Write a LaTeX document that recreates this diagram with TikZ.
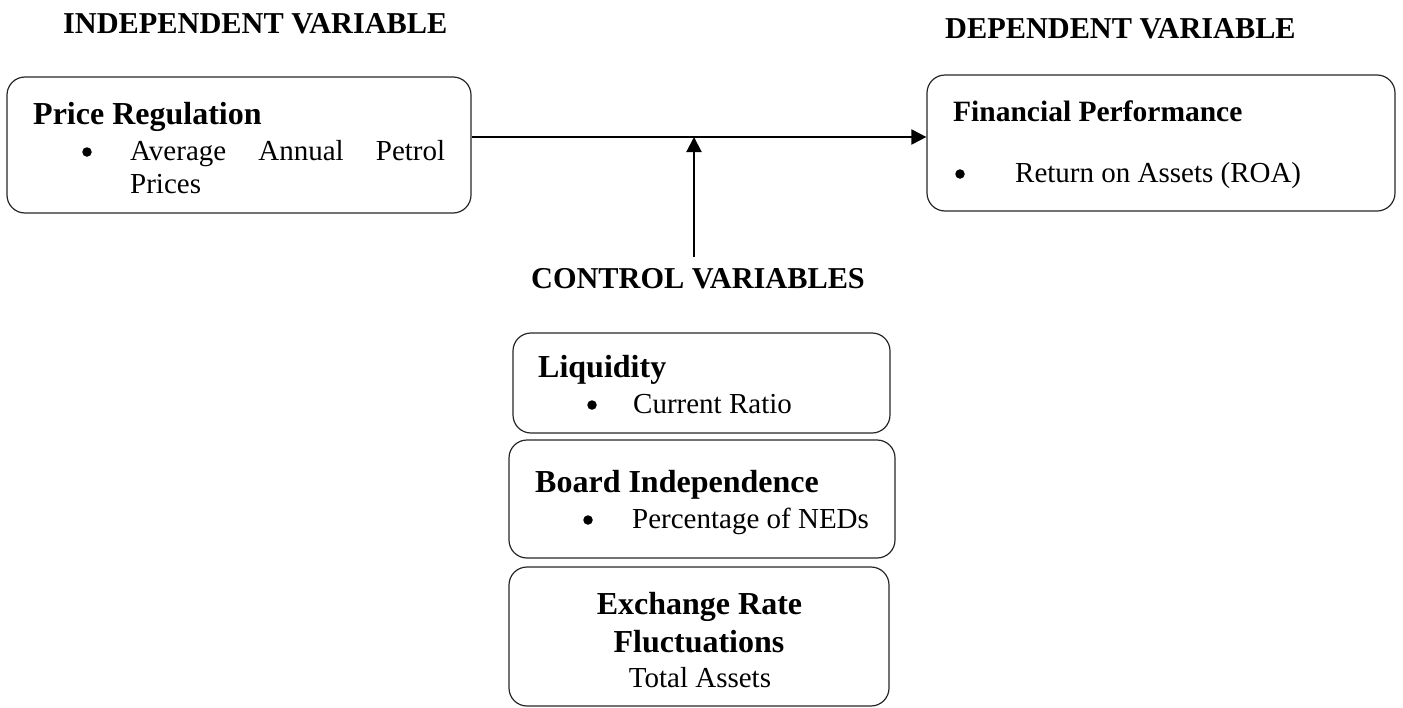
\documentclass[tikz,border=0pt]{standalone}
\usepackage{fontspec}
\setmainfont{Liberation Serif}
\usetikzlibrary{arrows.meta}
\begin{document}
\begin{tikzpicture}[x=1pt,y=-1pt,
  box/.style={draw=black!85, line width=1.2pt, rounded corners=18pt, inner sep=0pt},
  hd/.style={font=\bfseries\fontsize{30.3}{36}\selectfont, inner sep=0pt},
  ttl/.style={font=\bfseries\fontsize{32}{38}\selectfont, inner sep=0pt, anchor=base west},
  ttlc/.style={font=\bfseries\fontsize{32}{38}\selectfont, inner sep=0pt, anchor=base},
  txt/.style={font=\fontsize{29}{34}\selectfont, inner sep=0pt, anchor=base west},
  txtc/.style={font=\fontsize{29}{34}\selectfont, inner sep=0pt, anchor=base},
  dot/.style={circle, fill=black, inner sep=0pt, minimum size=9.5pt},
  arr/.style={line width=2pt, -{Triangle[length=15pt, width=15pt]}}
]
\useasboundingbox (0,0) rectangle (1403,707);

% boxes
\node[box, minimum width=464pt, minimum height=136pt] (pr) at (239,145) {};
\node[box, minimum width=468pt, minimum height=136pt] (fp) at (1161,143) {};
\node[box, minimum width=377pt, minimum height=100pt] (liq) at (701.5,383) {};
\node[box, minimum width=386pt, minimum height=118pt] (bi) at (702,499) {};
\node[box, minimum width=380pt, minimum height=139pt] (ex) at (699,636.5) {};

% headings
\node[hd, anchor=base west] (ivh) at (63,33) {INDEPENDENT VARIABLE};
\node[hd, anchor=base west] (dvh) at (945,38) {DEPENDENT VARIABLE};
\node[hd, anchor=base] (cv) at (698,288) {CONTROL VARIABLES};

% price regulation
\node[ttl] (prt) at (33,124) {Price Regulation};
\node[dot] (prb) at (87,152) {};
\node[txt] (prl1) at (130,160) {\makebox[315pt][s]{Average Annual Petrol}};
\node[txt] (prl2) at (130,193) {Prices};

% financial performance
\node[ttl, font=\bfseries\fontsize{29.5}{35}\selectfont] (fpt) at (953,121) {Financial Performance};
\node[dot] (fpb) at (960,174) {};
\node[txt] (fpl) at (1015,182) {Return on Assets (ROA)};

% liquidity
\node[ttl] (liqt) at (538,377) {Liquidity};
\node[dot] (liqb) at (592,405) {};
\node[txt] (liql) at (633,413) {Current Ratio};

% board independence
\node[ttl] (bit) at (535,492) {Board Independence};
\node[dot] (bib) at (588,520) {};
\node[txt] (bil) at (632,528) {Percentage of NEDs};

% exchange rate
\node[ttlc] (ext1) at (699.5,614) {Exchange Rate};
\node[ttlc] (ext2) at (699,652) {Fluctuations};
\node[txtc] (exl) at (700,687) {Total Assets};

% connectors
\coordinate (mid) at (694,137);
\coordinate (cvtop) at (694,257);
\draw[arr] (pr.east |- mid) -- (fp.west |- mid);
\draw[arr] (cvtop) -- (mid);
\end{tikzpicture}
\end{document}
